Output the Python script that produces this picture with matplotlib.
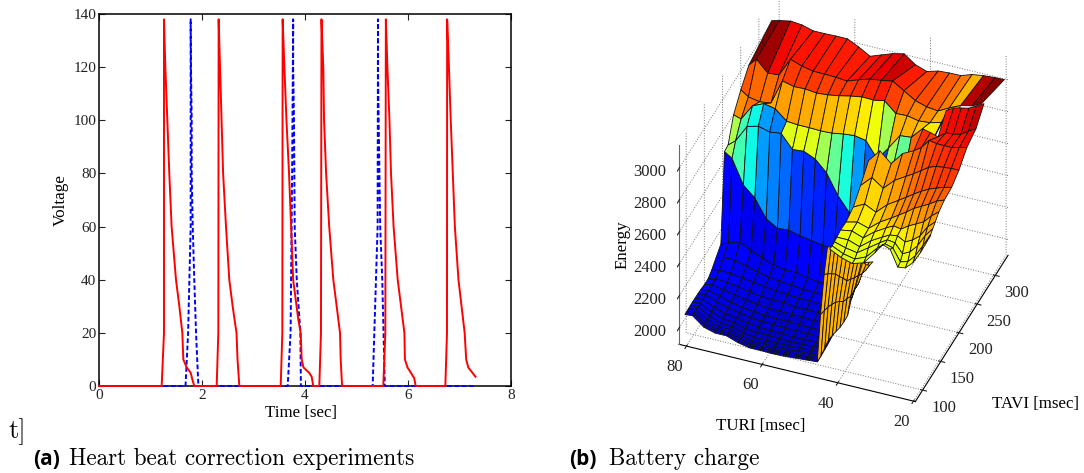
import numpy as np
import matplotlib
matplotlib.use('Agg')
import matplotlib.pyplot as plt
from mpl_toolkits.mplot3d.art3d import Poly3DCollection

nan = float('nan')

# left panel: voltage traces, one list pair per pulse
red_t = [
    0, 1.217, 1.262, 1.262, 1.288, 1.327, 1.365, 1.41, 1.495, 1.56, 1.618, 1.637, 1.702, 1.78, 1.819, 1.851,
    2.285, 2.317, 2.323, 2.35, 2.38, 2.41, 2.466, 2.53, 2.595, 2.67, 2.69, 2.725,
    3.528, 3.56, 3.566, 3.6, 3.64, 3.69, 3.73, 3.77, 3.87, 3.916, 3.936, 3.97, 4.08, 4.13, 4.16,
    4.278, 4.31, 4.32, 4.355, 4.37, 4.41, 4.47, 4.55, 4.68, 4.693, 4.72,
    5.52, 5.56, 5.57, 5.6, 5.64, 5.67, 5.72, 5.8, 5.93, 5.94, 5.99, 6.12, 6.15,
    6.725, 6.757, 6.76, 6.795, 6.83, 6.87, 6.91, 6.98, 7.1, 7.13, 7.17, 7.31]
red_v = [
    0, 0, 20, 138, 120, 100, 80, 60, 40, 30, 20, 10, 7, 5, 2, 0,
    0, 20, 138, 120, 100, 80, 60, 40, 30, 20, 10, 0,
    0, 20, 138, 120, 100, 80, 60, 40, 25, 20, 10, 7, 5, 3.5, 0,
    0, 20, 138, 120, 100, 80, 60, 40, 20, 10, 0,
    0, 20, 138, 120, 100, 80, 60, 40, 20, 10, 7, 3, 0,
    0, 20, 138, 120, 100, 80, 60, 40, 20, 10, 7, 3.5]
blue_t = [0, 1.68, 1.73, 1.78, 1.78, 1.786, 1.80, 1.80, 1.82, 1.85, 1.884, 1.93,
          3.664, 3.72, 3.75, 3.77, 3.77, 3.786, 3.8, 3.84, 3.91, 3.92,
          5.314, 5.41, 5.417, 5.417, 5.43, 5.46, 5.5, 5.55, 7.31]
blue_v = [0, 0, 20, 60, 138, 120, 100, 80, 60, 40, 20, 0,
          0, 20, 80, 138, 120, 100, 60, 40, 20, 0,
          0, 60, 138, 120, 100, 60, 40, 0, 0]

# right panel: main sheet, rows of TAVI against columns of TURI
turi_main = [81, 79, 76, 73, 70, 67, 64, 61, 58, 55, 52, 49, 46, 43, 40, 37, 34, 31, 28, 25, 22, 19.5]
tavi_main = [325, 262, 240, 220, 205, 195, 185, 172, 160, 150, 140, 130, 122, 114, 107, 101, 96, 92, 89, 86]
energy_main = [
    [3053, 3065, 3079, 3072, 3052, 3052, 3054, 3054, 3020, 2979, 3005, 3030, 3046, 2995, 2970, 2990, 2995, 2996, 3020, 3030, 3035, 3037],
    [3000, 3049, 2979, 2985, 3100, 3075, 3060, 3059, 3056, 3050, 3075, 3097, 3106, 3119, 3075, 3031, 3009, 3000, 3037, 3069, 3084, 3112],
    [2925, 2892, 2878, 2888, 3044, 3025, 3028, 3019, 3025, 3037, 3052, 3064, 3062, 3075, 3012, 3015, 3000, 3006, 3024, 3066],
    [2840, 2825, 2925, 2956, 2941, 2881, 2875, 2875, 2872, 2875, 2887, 2894, 2880, 2781, 2869, 2962, 2969, 3041, 3002, 3150],
    [2706, 2744, 2850, 2869, 2850, 2859, 2775, 2781, 2750, 2681, 2556, 2467, 2444, 2575, 2781, 2861, 2846, 2864],
    [2700, 2669, 2519, 2456, 2344, 2300, 2306, 2287, 2275, 2263, 2247, 2231, 2219],
    [2156, 2175, 2200, 2162, 2131, 2104, 2094, 2094, 2075, 2069, 2066, 2062, 2060],
    [2120, 2130, 2130, 2110, 2090, 2075, 2065, 2060, 2050, 2050, 2048, 2045, 2040],
    [2085, 2095, 2090, 2080, 2070, 2060, 2050, 2045, 2040, 2040, 2035, 2030, 2030],
    [2065, 2075, 2070, 2060, 2045, 2035, 2030, 2030, 2020, 2020, 2020, 2015, 2015],
    [2065, 2075, 2060, 2045, 2030, 2020, 2015, 2010, 2010, 2010, 2005, 2005, 2000],
    [2070, 2075, 2055, 2035, 2020, 2010, 2005, 2000, 2000, 1998, 1995, 1995, 1990],
    [2072, 2075, 2050, 2028, 2015, 2003, 1995, 1990, 1990, 1988, 1988, 1985, 1985],
    [2073, 2075, 2045, 2022, 2010, 1995, 1988, 1985, 1982, 1980, 1980, 1980, 1980],
    [2074, 2075, 2040, 2015, 2005, 1988, 1980, 1978, 1975, 1975, 1975, 1978, 1978],
    [2073, 2075, 2035, 2010, 2003, 1982, 1972, 1970, 1970, 1970, 1972, 1975, 1976],
    [2072, 2075, 2030, 2005, 2002, 1978, 1966, 1965, 1965, 1965, 1970, 1972, 1975],
    [2071, 2075, 2025, 2003, 2000, 1976, 1963, 1962, 1960, 1962, 1966, 1970, 1975],
    [2070, 2075, 2022, 2001, 2000, 1975, 1961, 1960, 1959, 1960, 1965, 1970, 1975],
    [2070, 2075, 2020, 2000, 2000, 1975, 1960, 1960, 1958, 1960, 1965, 1970, 1975]]
charge_main = [
    [1.0, .97, .90, .89, .89, .89, .88, .88, .88, .89, .90, .91, .93, .88, .84, .83, .81, .78, .72, .95, .99],
    [.82, .80, .79, .82, .85, .85, .85, .84, .85, .85, .86, .87, .88, .84, .79, .77, .76, .72, .68],
    [.76, .79, .70, .73, .74, .74, .73, .72, .71, .70, .68, .66, .64, .55, .72, .72, .70, .66, .65],
    [.56, .43, .37, .28, .25, .62, .63, .62, .55, .47, .38, .28, .22, .20, .55, .47, .80],
    [.55, .43, .37, .28, .25, .23, .18, .17, .16, .15, .15, .14],
    [.13, .13, .10, .09, .09, .10, .11, .11, .11, .11, .11, .11],
    [.12, .12, .11, .10, .10, .10, .10, .10, .10, .10, .10, .10],
    [.12, .12, .10, .10, .09, .09, .09, .09, .09, .09, .09, .09],
    [.12, .11, .10, .09, .09, .08, .08, .08, .08, .08, .08, .08],
    [.11, .11, .09, .09, .08, .08, .08, .08, .08, .08, .08, .08],
    [.11, .10, .09, .08, .08, .08, .07, .07, .07, .07, .07, .07],
    [.11, .10, .09, .08, .08, .07, .07, .07, .07, .07, .07, .07],
    [.11, .10, .08, .08, .07, .07, .07, .07, .07, .07, .07, .07],
    [.11, .10, .08, .07, .07, .07, .06, .06, .06, .06, .06, .06],
    [.11, .09, .08, .07, .07, .06, .06, .06, .06, .06, .06, .06],
    [.10, .09, .08, .07, .07, .06, .06, .06, .06, .06, .06, .06],
    [.10, .09, .08, .07, .06, .06, .06, .06, .06, .06, .06, .06],
    [.10, .09, .08, .07, .06, .06, .06, .06, .06, .06, .06, .06],
    [.10, .09, .08, .07, .06, .06, .06, .06, .06, .06, .06, .06]]

# steep orange step between the two levels
turi_step = [46, 45, 44, 43, 42, 41, 40, 39, 38, 37, 36, 35, 34]
tavi_step = [114, 105, 95, 86]
energy_step = [
    [2594, 2600, 2600, 2594, 2570, 2550, 2530, 2535, 2540, 2550, 2555, 2562, 2570],
    [2455, 2465, 2470, 2475, 2465, 2460, 2450, 2465, 2480, 2500, 2520, 2545, 2580],
    [2240, 2270, 2300, 2320, 2340, 2350, 2355, 2380, 2400, 2450, 2490, 2560, 2620],
    [1975, 2020, 2075, 2131, 2165, 2195, 2225, 2265, 2310, 2419, 2490, 2580, 2669]]
charge_step = [.72] * 12

# right hand part of the sheet with the hanging lumps
turi_right = [46, 43, 40, 37, 34, 32, 30, 28, 26, 24, 22, 20]
tavi_right = [274, 252, 227, 205, 185, 165, 150, 140, 133, 127, 120]
energy_right = [
    [nan, nan, nan, nan, nan, nan, 2965, 2994, 3005, 3015, 3041, 3066],
    [nan, nan, nan, nan, 2906, 2895, 2880, 2916, 2920, 2930, 2962, 2988],
    [2729, 2808, 2744, 2825, 2860, 2891, 2947, 2939, 2937, 2937, 2950, 2961],
    [2652, 2719, 2669, 2736, 2778, 2806, 2837, 2869, 2887, 2892, 2897, 2897],
    [2589, 2625, 2591, 2656, 2700, 2731, 2762, 2792, 2816, 2834, 2850, 2862],
    [2567, 2584, 2562, 2619, 2661, 2691, 2722, 2756, 2781, 2806, 2836, 2854],
    [2571, 2582, 2556, 2611, 2652, 2677, 2669, 2700, 2724, 2748, 2797, 2834],
    [2562, 2562, 2536, 2591, 2631, 2656, 2662, 2636, 2660, 2697, 2765, 2807],
    [2558, 2537, 2524, 2572, 2621, 2651, 2644, 2587, 2611, 2660, 2734, 2789],
    [2554, 2521, 2506, 2537, 2611, 2647, 2634, 2558, 2570, 2619, 2693, 2773],
    [2560, 2525, 2503, 2525, 2606, 2668, 2650, 2550, 2556, 2600, 2675, 2767]]
charge_right = [
    [.89, .89, .89, .89, .89, .89, .89, .90, .90, .92, .94],
    [.86, .86, .86, .86, .86, .85, .87, .88, .89, .89, .90],
    [.74, .72, .75, .77, .80, .81, .83, .85, .86, .87, .87],
    [.70, .68, .72, .74, .77, .79, .81, .82, .84, .85, .85],
    [.68, .66, .69, .72, .75, .77, .78, .79, .80, .81, .81],
    [.65, .64, .66, .68, .70, .72, .73, .74, .75, .76, .77],
    [.64, .63, .64, .65, .66, .66, .66, .68, .70, .72, .74],
    [.63, .63, .63, .64, .64, .64, .64, .65, .66, .70, .72],
    [.63, .63, .63, .63, .63, .63, .63, .64, .65, .68, .70],
    [.62, .62, .62, .62, .62, .62, .62, .63, .64, .66, .68]]


def mesh(turi, tavi, energy, charge):
    # one quad per complete cell, rows may stop early where the sheet ends
    verts, faces = [], []
    for i in range(len(tavi) - 1):
        top, low = energy[i], energy[i + 1]
        for j in range(len(turi) - 1):
            if j + 1 >= len(top) or j + 1 >= len(low) or j >= len(charge[i]):
                continue
            if np.isnan([top[j], top[j + 1], low[j], low[j + 1]]).any():
                continue
            verts.append([(turi[j], tavi[i], top[j]), (turi[j + 1], tavi[i], top[j + 1]),
                          (turi[j + 1], tavi[i + 1], low[j + 1]), (turi[j], tavi[i + 1], low[j])])
            faces.append(plt.cm.jet(charge[i][j]))
    return verts, faces


plt.rcParams['grid.linestyle'] = ':'
plt.rcParams['grid.color'] = '#777777'
plt.rcParams['grid.linewidth'] = 0.7
plt.rcParams['font.family'] = ['Liberation Serif', 'DejaVu Serif']
plt.rcParams['xtick.color'] = '#222222'
plt.rcParams['ytick.color'] = '#222222'

fig = plt.figure(figsize=(10.84, 4.73), dpi=100)

ax = fig.add_axes([99 / 1084, 1 - 386 / 473, 412 / 1084, 372 / 473])
ax.plot(blue_t, blue_v, color='#0000ff', ls='--', lw=1.4, dashes=(2.4, 1.3), clip_on=False, zorder=3)
ax.plot(red_t, red_v, color='#ff0000', lw=1.4, clip_on=False, zorder=3)
ax.set_xlim(0, 8)
ax.set_ylim(0, 140)
ax.set_xticks([0, 2, 4, 6, 8])
ax.set_yticks([0, 20, 40, 60, 80, 100, 120, 140])
ax.tick_params(direction='in', top=True, right=True, length=4, width=0.8, labelsize=11, pad=2)
for s in ax.spines.values():
    s.set_linewidth(1.1)
ax.set_ylabel('Voltage', fontsize=12.3, labelpad=3)
fig.text(301 / 1084, 1 - 413 / 473, 'Time [sec]', ha='center', va='center', fontsize=12.2)

ax3 = fig.add_axes([624.2 / 1084, (473 - 419.3) / 473, 427 / 1084, 427 / 473], projection='3d',
                   proj_type='ortho', computed_zorder=False)
ax3.view_init(elev=38.2, azim=-68.6)
ax3.set_box_aspect((1, 1, 1))
ax3.set_xlim(82, 19.5, view_margin=0)
ax3.set_ylim(80, 335, view_margin=0)
ax3.set_zlim(1900, 3150, view_margin=0)
ax3.patch.set_alpha(0)

for order, (t, a, e, c) in enumerate([(turi_main, tavi_main, energy_main, charge_main),
                                      (turi_step, tavi_step, energy_step, [charge_step] * 3),
                                      (turi_right, tavi_right, energy_right, charge_right)]):
    verts, faces = mesh(t, a, e, c)
    ax3.add_collection3d(Poly3DCollection(verts, facecolors=faces, edgecolors='#111111',
                                          linewidths=0.6, zorder=5 + order))

ax3.set_xticks([80, 60, 40, 20])
ax3.set_yticks([100, 150, 200, 250, 300])
ax3.set_zticks([2000, 2200, 2400, 2600, 2800, 3000])
ax3.tick_params(labelsize=12, pad=-2)
ax3.zaxis.set_ticks_position('lower')
for axis in (ax3.xaxis, ax3.yaxis, ax3.zaxis):
    axis.set_pane_color((1, 1, 1, 0))
    axis.pane.set_edgecolor('none')
ax3.zaxis.line.set_color('#666666')
for lab in ax3.get_xticklabels():
    lab.set_ha('right')
for lab in ax3.get_yticklabels():
    lab.set_ha('left')
for lab in ax3.get_zticklabels():
    lab.set_ha('right')
    lab.set_va('center')

fig.text(761 / 1084, 1 - 426 / 473, 'TURI [msec]', ha='center', va='center', fontsize=12.2)
fig.text(1036 / 1084, 1 - 404 / 473, 'TAVI [msec]', ha='center', va='center', fontsize=12.2)
fig.text(623 / 1084, 1 - 245 / 473, 'Energy', ha='center', va='center', rotation=90, fontsize=12.2)

fig.text(8 / 1084, 1 - 438 / 473, 't]', fontsize=19, family=['cmr10', 'DejaVu Serif'])
fig.text(33 / 1084, 1 - 465 / 473, '(a)', fontsize=15, family='Open Sans', weight='bold')
fig.text(69 / 1084, 1 - 465 / 473, 'Heart beat correction experiments', fontsize=16.7, family=['cmr10', 'DejaVu Serif'])
fig.text(569 / 1084, 1 - 465 / 473, '(b)', fontsize=15, family='Open Sans', weight='bold')
fig.text(609 / 1084, 1 - 465 / 473, 'Battery charge', fontsize=16.7, family=['cmr10', 'DejaVu Serif'])

fig.savefig('out.png', dpi=100)
